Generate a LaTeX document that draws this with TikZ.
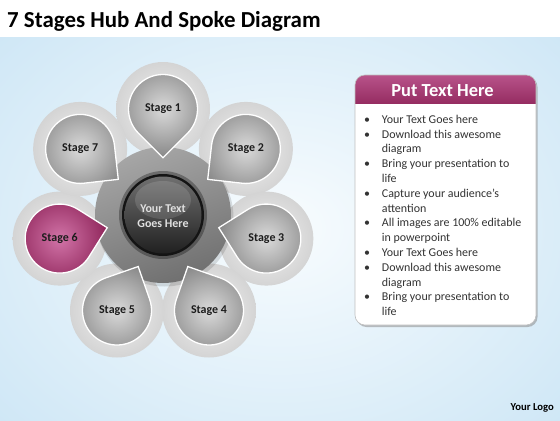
\documentclass[tikz,border=0pt]{standalone}
\usepackage{fontspec}
\setmainfont{Carlito}
\usetikzlibrary{calc}
\definecolor{bgin}{HTML}{F8FCFE}
\definecolor{bgout}{HTML}{CFE7F6}
\definecolor{haloin}{HTML}{F2F2F2}
\definecolor{haloout}{HTML}{D4D4D4}
\definecolor{petalin}{HTML}{DADADA}
\definecolor{petalout}{HTML}{858585}
\definecolor{magin}{HTML}{D274A8}
\definecolor{magout}{HTML}{8C2257}
\definecolor{hubtop}{HTML}{A6A6A6}
\definecolor{hubbot}{HTML}{707070}
\definecolor{balltop}{HTML}{707070}
\definecolor{ballbot}{HTML}{202020}
\definecolor{headtop}{HTML}{B8538A}
\definecolor{headbot}{HTML}{962D62}
\definecolor{txtdark}{HTML}{1C1C1C}
\definecolor{bodytxt}{HTML}{333333}
\tikzset{
  stagetxt/.style={font=\fontsize{12}{14}\selectfont\bfseries, text=txtdark, inner sep=0pt},
  balltxt/.style={font=\fontsize{12}{15}\selectfont\bfseries, text=black!12, align=center, inner sep=0pt},
  titletxt/.style={font=\fontsize{23}{26}\selectfont\bfseries, text=black, inner sep=0pt},
  headtxt/.style={font=\fontsize{18.5}{20}\selectfont\bfseries, text=white, inner sep=0pt},
  logotxt/.style={font=\fontsize{10.7}{12}\selectfont\bfseries, text=black, inner sep=0pt},
  listtxt/.style={font=\fontsize{12}{14.85}\selectfont, text=bodytxt, inner sep=0pt}
}
\begin{document}
\begin{tikzpicture}[x=1bp,y=1bp]
\useasboundingbox (0,0) rectangle (560,420);
% background
\fill[white] (0,0) rectangle (560,420);
\begin{scope}
  \clip (0,0) rectangle (560,383);
  \shade[inner color=bgin, outer color=bgout] (-100,-100) rectangle (660,483);
\end{scope}
% title
\node[titletxt, anchor=base west] (title) at (7,392) {7 Stages Hub And Spoke Diagram};
% hub centre
\coordinate (H) at (163,205);
\foreach \k in {1,...,7}{
  \pgfmathsetmacro\ang{90-(\k-1)*360/7}
  \coordinate (c\k) at ($(H)+(\ang:106)$);
}
% halos
\foreach \k in {1,...,7}{
  \shade[inner color=haloin, outer color=haloout] (c\k) circle (47);
}
% hub ring
\fill[black, opacity=0.12] ($(H)+(1.5,-2.5)$) circle (69);
\shade[top color=hubtop, bottom color=hubbot, shading angle=20] (H) circle (68);
% petals
\foreach \k in {1,...,7}{
  \pgfmathsetmacro\ang{90-(\k-1)*360/7}
  \pgfmathsetmacro\ta{\ang+180}
  \ifnum\k=6 \def\ci{magin}\def\co{magout}\else \def\ci{petalin}\def\co{petalout}\fi
  \begin{scope}
    \clip (c\k) ++({\ta+45}:34.5) arc[start angle={\ta+45}, delta angle=270, radius=34.5] -- ($(c\k)+(\ta:48.8)$) -- cycle;
    \shade[inner color=\ci, outer color=\co] (c\k) circle (50);
  \end{scope}
  \draw[white, line width=1.3bp, line join=miter] (c\k) ++({\ta+45}:34.5) arc[start angle={\ta+45}, delta angle=270, radius=34.5] -- ($(c\k)+(\ta:48.8)$) -- cycle;
}
% central ball
\fill[black, opacity=0.3] (H) circle (44);
\fill[black!92] (H) circle (41);
\shade[top color=balltop, bottom color=ballbot] (H) circle (38.5);
\fill[white, opacity=0.13] ($(H)+(0,15)$) ellipse (28 and 19);
\node[balltxt] (centre) at ($(H)+(0,-1)$) {Your Text\\Goes Here};
% stage labels
\foreach \k in {1,...,7}{
  \node[stagetxt] (s\k) at (c\k) {Stage \k};
}
% text panel
\fill[black!45, opacity=0.55, rounded corners=10] (356.5,93) rectangle (537.5,343);
\fill[white, rounded corners=10] (355,95) rectangle (536,345);
\begin{scope}
  \clip[rounded corners=10] (355,95) rectangle (536,345);
  \shade[top color=headtop, bottom color=headbot] (355,317) rectangle (536,345);
\end{scope}
\draw[black!25, line width=0.6bp, rounded corners=10] (355,95) rectangle (536,345);
\node[headtxt, anchor=base] (head) at (442.5,323.3) {Put Text Here};
\node[listtxt, anchor=base west] (list) at (364,296.7) {%
\renewcommand{\arraystretch}{1}%
\begin{tabular}[t]{@{}p{17.7bp}@{}l@{}}
\textbullet & Your Text Goes here\\
\textbullet & Download this awesome\\
 & diagram\\
\textbullet & Bring your presentation to\\
 & life\\
\textbullet & Capture your audience’s\\
 & attention\\
\textbullet & All images are 100\% editable\\
 & in powerpoint\\
\textbullet & Your Text Goes here\\
\textbullet & Download this awesome\\
 & diagram\\
\textbullet & Bring your presentation to\\
 & life
\end{tabular}};
% logo
\node[logotxt, anchor=base east] (logo) at (554,9.3) {Your Logo};
\end{tikzpicture}
\end{document}
